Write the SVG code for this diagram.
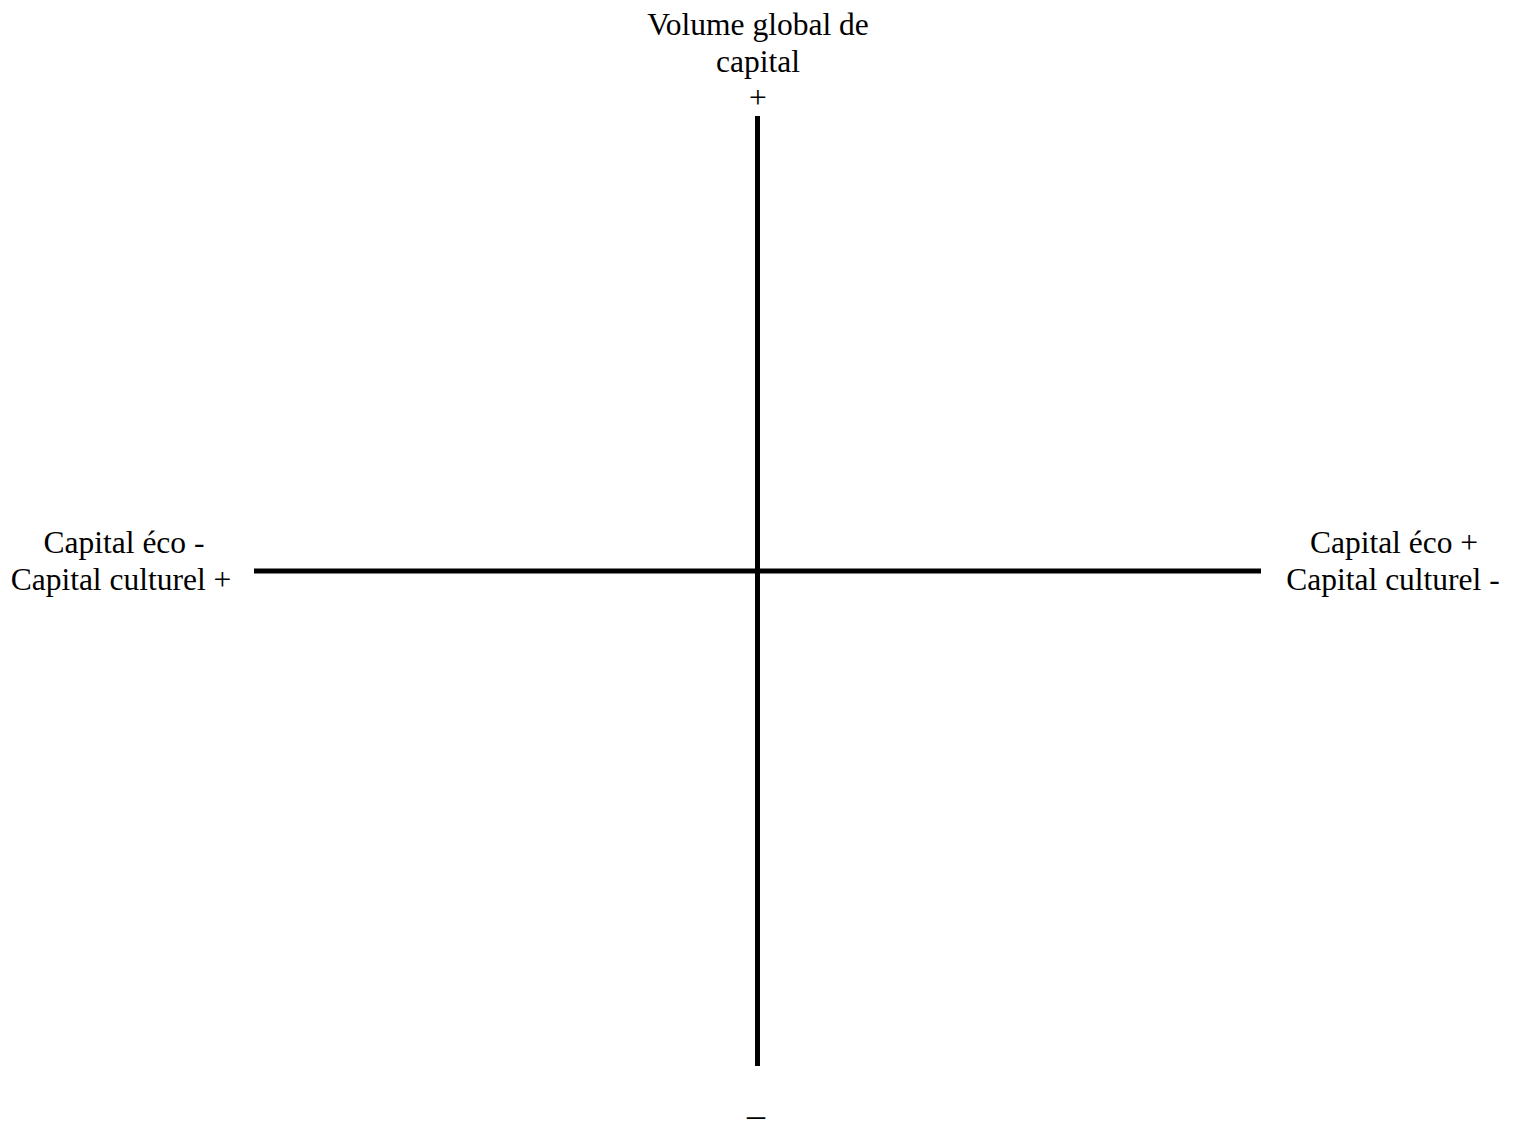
<svg xmlns="http://www.w3.org/2000/svg" width="1516" height="1124" viewBox="0 0 1516 1124">
<style>
text{font-family:"Liberation Serif","Times New Roman",serif;font-size:31.5px;fill:#000;text-anchor:middle}
.axis{stroke:#000;stroke-width:5;fill:none}
</style>
<rect width="1516" height="1124" fill="#fff"/>
<g id="connectors">
<line class="axis" x1="757.5" y1="116" x2="757.5" y2="1066"/>
<line class="axis" x1="254" y1="571" x2="1261" y2="571"/>
</g>
<g id="top-label">
<text x="758" y="35">Volume global de</text>
<text x="758" y="72">capital</text>
<text x="758" y="108">+</text>
</g>
<g id="left-label">
<text x="124" y="553">Capital éco -</text>
<text x="121" y="590">Capital culturel +</text>
</g>
<g id="right-label">
<text x="1394" y="553">Capital éco +</text>
<text x="1393" y="590">Capital culturel -</text>
</g>
<g id="bottom-label">
<text x="756" y="1127" style="font-size:36px">–</text>
</g>
</svg>
